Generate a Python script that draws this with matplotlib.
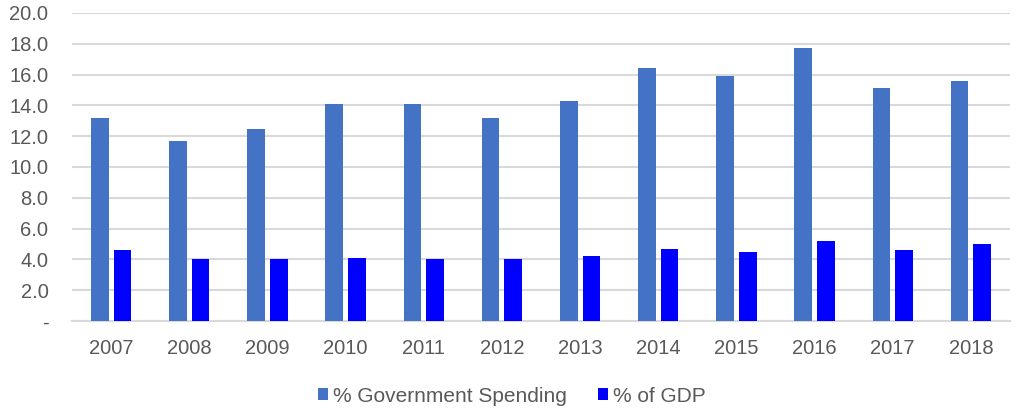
import matplotlib.pyplot as plt
import numpy as np
from matplotlib.ticker import FixedLocator, FuncFormatter

plt.rcParams['font.family'] = ['Liberation Sans', 'DejaVu Sans']

years = ['2007', '2008', '2009', '2010', '2011', '2012',
         '2013', '2014', '2015', '2016', '2017', '2018']
gov_spending = [13.2, 11.7, 12.5, 14.1, 14.1, 13.2, 14.3, 16.4, 15.9, 17.7, 15.1, 15.6]
pct_gdp = [4.6, 4.0, 4.0, 4.1, 4.05, 4.0, 4.2, 4.7, 4.5, 5.2, 4.6, 5.0]

text_col = '#595959'
grid_col = '#D9D9D9'

fig = plt.figure(figsize=(10.25, 4.08), dpi=100)
ax = fig.add_axes([72 / 1025, 1 - 321 / 408, 938 / 1025, 308 / 408])

x = np.arange(len(years))
w = 0.227
off = 0.145
ax.bar(x - off, gov_spending, w, color='#4472C4', label='% Government Spending', zorder=3)
ax.bar(x + off, pct_gdp, w, color='#0000FF', label='% of GDP', zorder=3)

ax.set_xlim(-0.5, len(years) - 0.5)
ax.set_ylim(0, 20)
ax.yaxis.set_major_locator(FixedLocator(np.arange(0, 21, 2)))
ax.yaxis.set_major_formatter(FuncFormatter(lambda v, p: '-' if v == 0 else f'{v:.1f}'))
ax.set_xticks(x)
ax.set_xticklabels(years)

ax.grid(axis='y', color=grid_col, linewidth=1.5, zorder=0)
for s in ['top', 'right', 'left']:
    ax.spines[s].set_visible(False)
ax.spines['bottom'].set_color(grid_col)
ax.spines['bottom'].set_linewidth(1.5)
ax.tick_params(axis='both', length=0, labelsize=14.5, colors=text_col)
ax.tick_params(axis='y', pad=17)
ax.tick_params(axis='x', pad=13)

leg = fig.legend(loc='center', bbox_to_anchor=(512 / 1025, 1 - 396 / 408), ncol=2,
                 frameon=False, fontsize=15, handlelength=0.48, handleheight=0.48,
                 handletextpad=0.25, columnspacing=1.5)
for t in leg.get_texts():
    t.set_color(text_col)

fig.savefig('out.png', dpi=100)
